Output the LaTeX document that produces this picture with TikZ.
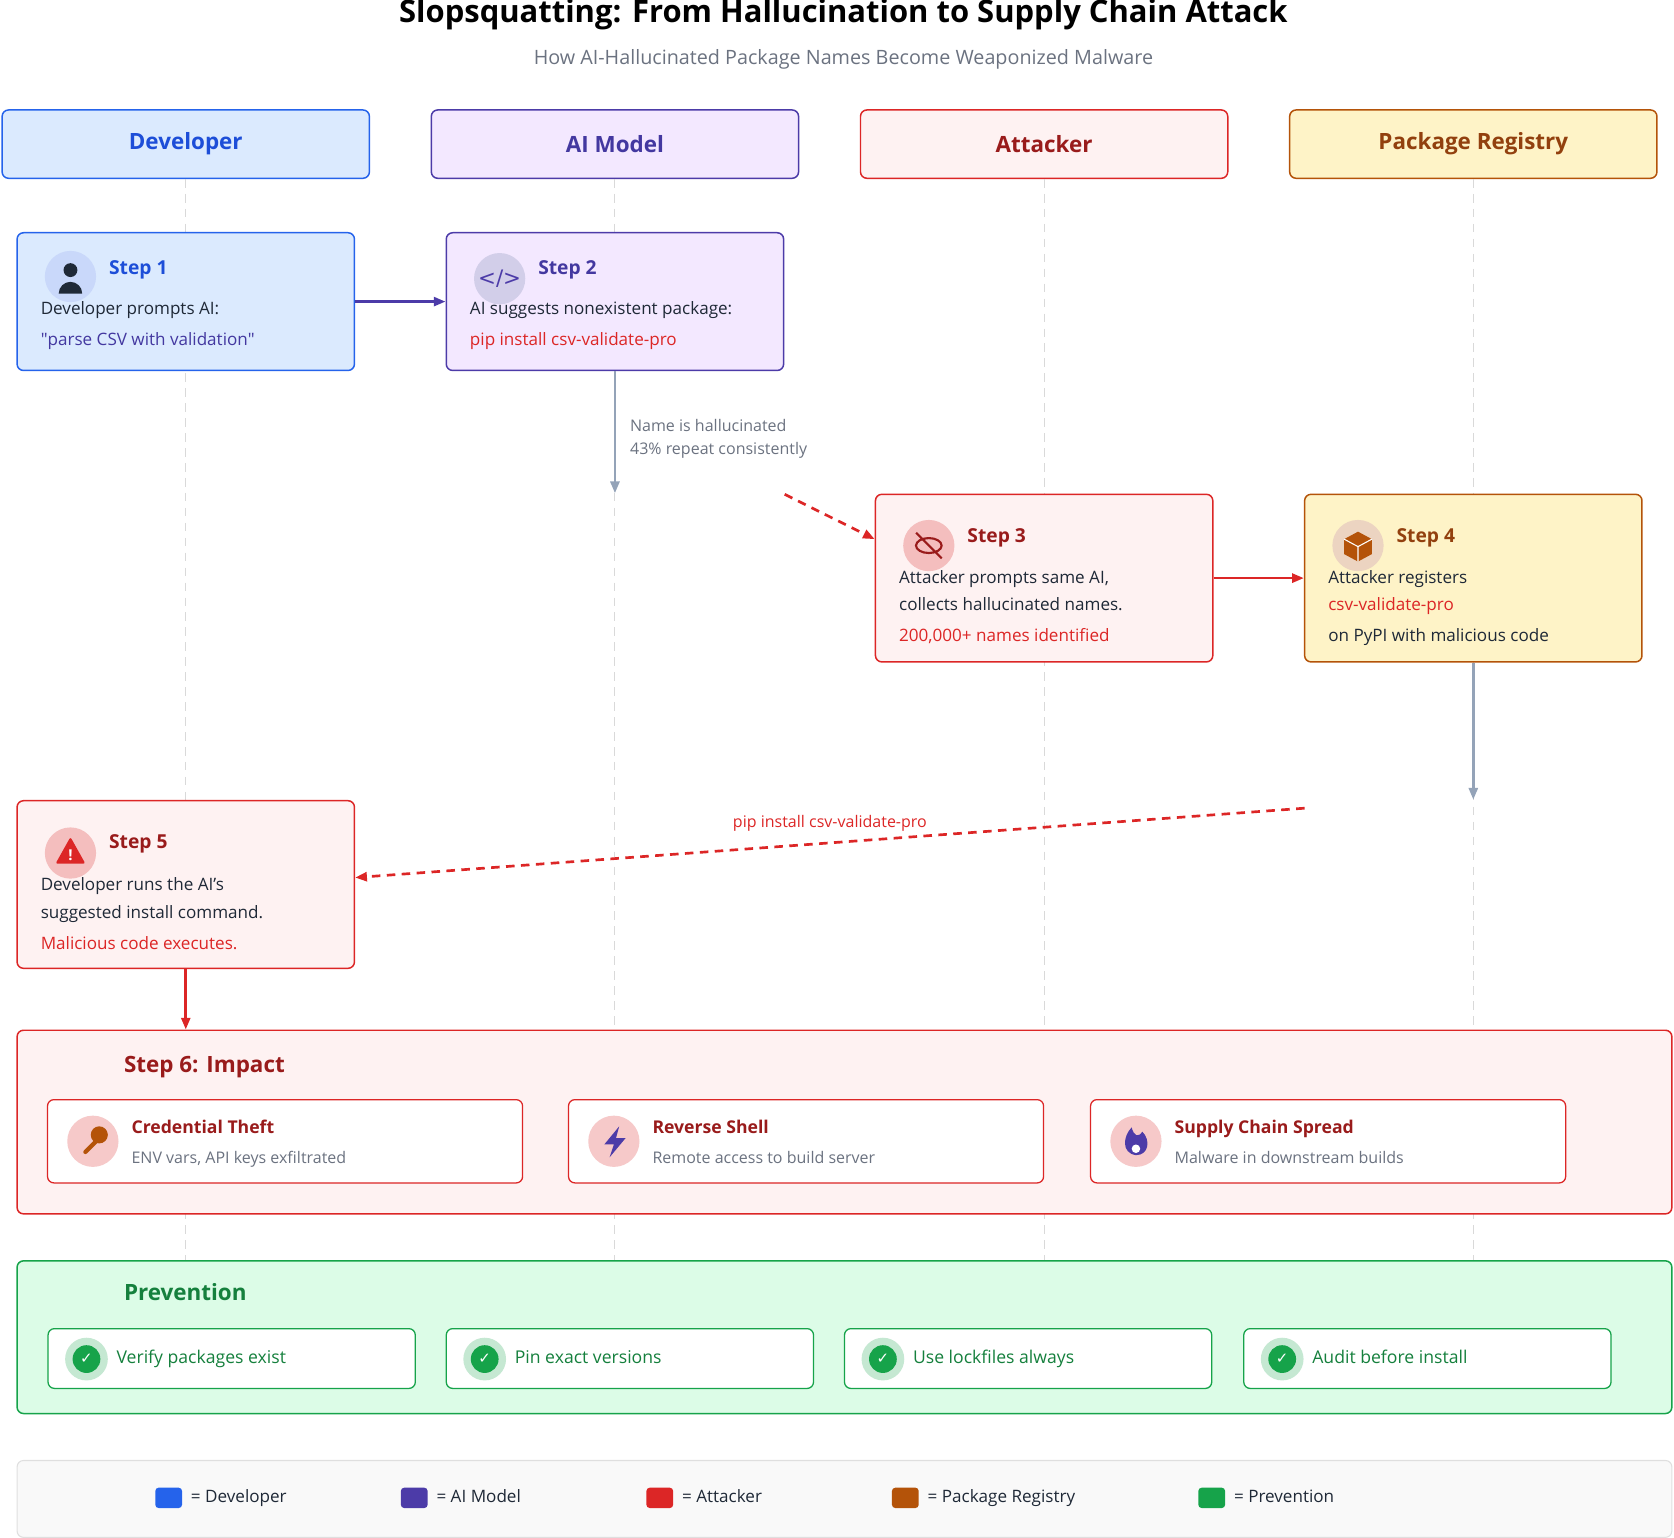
\documentclass[tikz,border=0pt]{standalone}
\usepackage{fontspec}
\setmainfont{Open Sans}
\newfontfamily\sym{DejaVu Sans}
\usetikzlibrary{arrows.meta,positioning,shapes.geometric}
\definecolor{devF}{HTML}{DBEAFE}\definecolor{devD}{HTML}{2563EB}\definecolor{devT}{HTML}{1D4ED8}
\definecolor{aiF}{HTML}{F3E8FF}\definecolor{aiD}{HTML}{4C3BA8}\definecolor{aiT}{HTML}{4338A0}
\definecolor{atF}{HTML}{FEF2F2}\definecolor{atD}{HTML}{DC2626}\definecolor{atT}{HTML}{991B1B}
\definecolor{reF}{HTML}{FEF3C7}\definecolor{reD}{HTML}{B45309}\definecolor{reT}{HTML}{92400E}
\definecolor{prF}{HTML}{DCFCE7}\definecolor{prD}{HTML}{16A34A}\definecolor{prT}{HTML}{15803D}
\definecolor{ink}{HTML}{1F2937}\definecolor{gry}{HTML}{6B7280}\definecolor{arw}{HTML}{94A3B8}
\begin{document}
\begin{tikzpicture}[x=1pt,y=-1pt,
    >={Triangle[angle=45:11pt,length=11pt]},
    base/.style={draw, rounded corners=6pt, line width=1.4pt, inner sep=0pt},
    lane/.style={base, minimum width=344pt, minimum height=64pt, font=\fontsize{21}{26}\selectfont\bfseries},
    stepbox/.style={base, minimum width=316pt},
    txt/.style={anchor=west, inner sep=0pt, text height=12pt, text depth=4pt, font=\fontsize{16}{20}\selectfont, text=ink},
    ttl/.style={anchor=west, inner sep=0pt, text height=14pt, text depth=4pt, font=\fontsize{18}{22}\selectfont\bfseries},
    ico/.style={circle, minimum size=48pt, inner sep=0pt},
    life/.style={draw=gray!30, line width=1pt, dash pattern=on 8pt off 6pt},
    item/.style={base, fill=white, line width=1.2pt, minimum height=56pt}]
  \useasboundingbox (0,0) rectangle (1568,1440);
  % title
  \node[font=\fontsize{29}{34}\selectfont\bfseries] (title) at (790,14) {Slopsquatting: From Hallucination to Supply Chain Attack};
  \node[font=\fontsize{18.5}{22}\selectfont, text=gry] (sub) at (790,56) {How AI-Hallucinated Package Names Become Weaponized Malware};
  % lanes
  \node[lane, fill=devF, draw=devD, text=devT] (dev) at (174,135) {Developer};
  \node[lane, fill=aiF, draw=aiD, text=aiT] (ai) at (576,135) {AI Model};
  \node[lane, fill=atF, draw=atD, text=atT] (att) at (978,135) {Attacker};
  \node[lane, fill=reF, draw=reD, text=reT] (reg) at (1380,135) {Package Registry};
  \foreach \l/\x in {dev/174,ai/576,att/978,reg/1380}
    \draw[life] (\l.south) -- (\x,1180);
  % steps
  \node[stepbox, fill=devF, draw=devD, minimum height=129pt] (s1) at (174,282.5) {};
  \node[stepbox, fill=aiF, draw=aiD, minimum height=129pt] (s2) at (576,282.5) {};
  \node[stepbox, fill=atF, draw=atD, minimum height=157pt] (s3) at (978,541.5) {};
  \node[stepbox, fill=reF, draw=reD, minimum height=157pt] (s4) at (1380,541.5) {};
  \node[stepbox, fill=atF, draw=atD, minimum height=157pt] (s5) at (174,828.5) {};
  % step 1
  \node[ico, fill=devD!25] (i1) at (66,259) {};
  \fill[ink] (66,253) circle (6.5) (55,275) arc[start angle=180,end angle=0,x radius=11,y radius=-11] -- cycle;
  \node[ttl, text=devT] at (102,252) {Step 1};
  \node[txt] at (38,291) {Developer prompts AI:};
  \node[txt, text=aiT] at (38,320) {\textquotedbl parse CSV with validation\textquotedbl};
  % step 2
  \node[ico, fill=aiD!25, text=aiD, font=\sym\fontsize{20}{20}\selectfont] (i2) at (468,261) {</>};
  \node[ttl, text=aiT] at (504,252) {Step 2};
  \node[txt] at (440,291) {AI suggests nonexistent package:};
  \node[txt, text=atD] at (440,320) {pip install csv-validate-pro};
  % step 3
  \node[ico, fill=atD!30] (i3) at (870,511) {};
  \draw[atT, line width=2pt] (870,511) ellipse (12 and 7) (858,499) -- (882,523);
  \node[ttl, text=atT] at (906,503) {Step 3};
  \node[txt] at (842,543) {Attacker prompts same AI,};
  \node[txt] at (842,568) {collects hallucinated names.};
  \node[txt, text=atD] at (842,597) {200,000+ names identified};
  % step 4
  \node[ico, fill=reD!25] (i4) at (1272,511) {};
  \fill[reD] (1272,498) -- (1285,505) -- (1285,519) -- (1272,526) -- (1259,519) -- (1259,505) -- cycle;
  \draw[white, line width=1pt] (1259,505) -- (1272,512) -- (1285,505) (1272,512) -- (1272,526);
  \node[ttl, text=reT] at (1308,503) {Step 4};
  \node[txt] at (1244,543) {Attacker registers};
  \node[txt, text=atD] at (1244,568) {csv-validate-pro};
  \node[txt] at (1244,597) {on PyPI with malicious code};
  % step 5
  \node[ico, fill=atD!30] (i5) at (66,799) {};
  \fill[atD, rounded corners=2pt] (66,784) -- (80,809) -- (52,809) -- cycle;
  \node[text=white, font=\bfseries\fontsize{14}{14}\selectfont] at (66,801) {!};
  \node[ttl, text=atT] at (102,790) {Step 5};
  \node[txt] at (38,830) {Developer runs the AI's};
  \node[txt] at (38,856) {suggested install command.};
  \node[txt, text=atD] at (38,885) {Malicious code executes.};
  % impact
  \node[base, fill=atF, draw=atD, minimum width=1550pt, minimum height=172pt] (imp) at (791,1051) {};
  \node[ttl, text=atT, font=\fontsize{21}{26}\selectfont\bfseries] at (116,1000) {Step 6: Impact};
  \foreach \n/\x/\t/\d in {cred/267/Credential Theft/{ENV vars, API keys exfiltrated},
      shell/755/Reverse Shell/Remote access to build server,
      spread/1244/Supply Chain Spread/Malware in downstream builds}{
    \node[item, draw=atD, minimum width=445pt, minimum height=78pt] (\n) at (\x,1069) {};
    \node[ico, fill=atD!25] (\n i) at (\x-180,1069) {};
    \node[ttl, text=atT, font=\fontsize{16.5}{20}\selectfont\bfseries] at (\x-144,1057) {\t};
    \node[txt, text=gry, font=\fontsize{15}{18}\selectfont] at (\x-144,1086) {\d};
  }
  \draw[reD, line width=4pt, line cap=round] (80,1079) -- (90,1069);
  \fill[reD] (93,1063) circle (8);
  \fill[aiD] (580,1055) -- (566,1072) -- (575,1072) -- (571,1084) -- (586,1066) -- (577,1066) -- cycle;
  \fill[aiD] (1064,1082) .. controls (1050,1080) and (1052,1064) .. (1060,1056) .. controls (1062,1064) and (1066,1066) .. (1070,1060) .. controls (1078,1068) and (1076,1082) .. (1064,1082);
  \fill[white] (1064,1076) circle (4);
  % prevention
  \node[base, fill=prF, draw=prD, minimum width=1550pt, minimum height=143pt] (prev) at (791,1252.5) {};
  \node[ttl, text=prT, font=\fontsize{21}{26}\selectfont\bfseries] at (116,1213) {Prevention};
  \foreach \n/\x/\t in {exist/217/Verify packages exist, pin/590/Pin exact versions,
      lock/963/Use lockfiles always, audit/1337/Audit before install}{
    \node[item, draw=prD, minimum width=344pt] (\n) at (\x,1272.5) {};
    \node[ico, fill=prD!25, minimum size=40pt] (\n i) at (\x-136,1273) {};
    \node[circle, fill=prD, text=white, minimum size=26pt, inner sep=0pt, font=\sym\fontsize{14}{14}\selectfont] at (\x-136,1273) {✓};
    \node[txt, text=prT, font=\fontsize{16.5}{20}\selectfont] at (\x-108,1273) {\t};
  }
  % legend
  \node[base, fill=gray!5, draw=gray!25, line width=1pt, minimum width=1550pt, minimum height=72pt] (leg) at (791,1404) {};
  \foreach \n/\x/\c/\t in {l1/158/devD/Developer, l2/388/aiD/AI Model, l3/618/atD/Attacker,
      l4/848/reD/Package Registry, l5/1135/prD/Prevention}{
    \node[fill=\c, rounded corners=3pt, minimum width=25pt, minimum height=19pt, inner sep=0pt] (\n) at (\x,1403) {};
    \node[txt, right=8pt of \n] {= \t};
  }
  % connectors
  \coordinate (c2) at (576,462);
  \coordinate (c3) at (735,463);
  \coordinate (c4) at (1380,749);
  \coordinate (c5) at (1222,757);
  \draw[->, aiD, line width=2.5pt] (s1) -- (s2);
  \draw[->, arw, line width=2.5pt] (s2) -- (c2);
  \node[txt, text=gry, font=\fontsize{15}{18}\selectfont, align=left, text height=, text depth=] at (590,411) {Name is hallucinated\\[4pt]43\% repeat consistently};
  \draw[->, atD, line width=2.5pt, dash pattern=on 8pt off 6pt] (c3) -- (s3.west |- 0,505);
  \draw[->, atD, line width=2.5pt] (s3) -- (s4);
  \draw[->, arw, line width=2.5pt] (s4) -- (c4);
  \draw[->, atD, line width=2.5pt, dash pattern=on 8pt off 6pt] (c5) -- (s5.east |- 0,822)
    node[pos=0.5, above=6pt, text=atD, font=\fontsize{15}{18}\selectfont] {pip install csv-validate-pro};
  \draw[->, atD, line width=2.5pt] (s5) -- (imp.north -| s5);
\end{tikzpicture}
\end{document}
